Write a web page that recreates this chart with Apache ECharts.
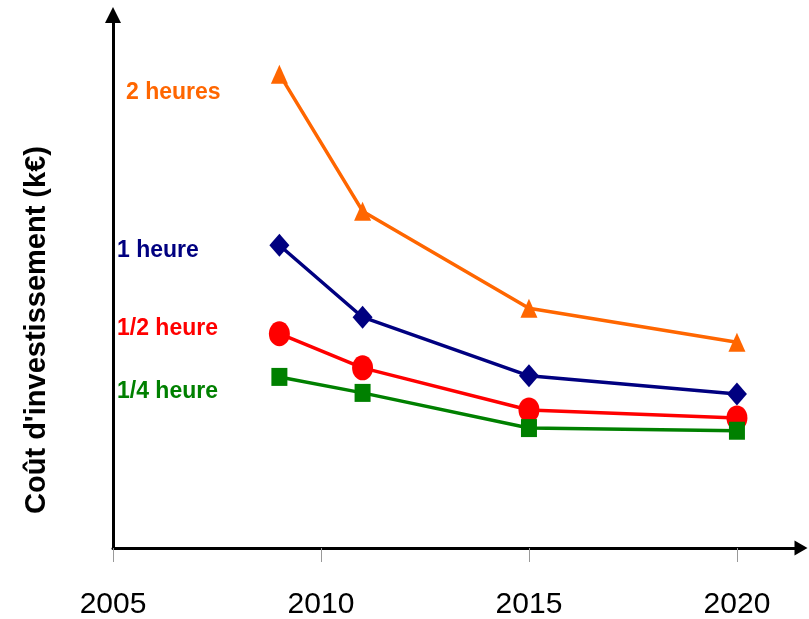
<!DOCTYPE html>
<html>
<head>
<meta charset="utf-8">
<script src="https://cdn.jsdelivr.net/npm/echarts@6/dist/echarts.min.js"></script>
<style>
  html, body { margin: 0; padding: 0; background: #fff; }
  #chart { width: 809px; height: 619px; }
</style>
</head>
<body>
<div id="chart"></div>
<script>
// Investment cost trend per storage duration
const years = [2009, 2011, 2015, 2020];
const deuxHeures = [88.9, 63.2, 45.0, 38.6];
const uneHeure = [56.8, 43.3, 32.3, 28.9];
const demiHeure = [40.2, 33.8, 25.9, 24.4];
const quartHeure = [32.1, 29.1, 22.5, 22.0];
const xTicks = [2005, 2010, 2015, 2020];
const seriesNames = ['2 heures', '1 heure', '1/2 heure', '1/4 heure'];

const colors = ['#FF6600', '#000080', '#FF0000', '#008000'];
const symbols = ['triangle', 'diamond', 'circle', 'rect'];
const sizes = [[17, 19], [20, 23], [21, 25], [16, 18]];
const values = [deuxHeures, uneHeure, demiHeure, quartHeure];

const chart = echarts.init(document.getElementById('chart'));

const series = values.map((vals, k) => ({
  name: seriesNames[k],
  type: 'line',
  data: years.map((y, i) => [y, vals[i]]),
  symbol: symbols[k],
  symbolSize: sizes[k],
  showAllSymbol: true,
  lineStyle: { color: colors[k], width: 3.5 },
  itemStyle: { color: colors[k] },
  z: 2 + k
}));

// Series names written beside the start of each curve
const labelPos = [[126, 93], [117, 251], [117, 329], [117, 392]];
const labelGraphics = seriesNames.map((name, k) => ({
  type: 'text',
  x: labelPos[k][0],
  y: labelPos[k][1],
  style: {
    text: name,
    fill: colors[k],
    font: 'bold 23px "Liberation Sans", Arial, sans-serif',
    textAlign: 'left',
    textVerticalAlign: 'middle'
  }
}));

chart.setOption({
  animation: false,
  backgroundColor: '#ffffff',
  grid: {
    left: 113, right: 8, top: 15, bottom: 71,
    containLabel: false,
    outerBoundsMode: 'none'
  },
  xAxis: {
    type: 'value',
    min: 2005,
    max: 2021.54,
    splitLine: { show: false },
    axisLine: {
      show: true,
      lineStyle: { color: '#000', width: 3 },
      symbol: ['none', 'triangle'],
      symbolSize: [15, 13]
    },
    axisTick: {
      show: true,
      customValues: xTicks,
      length: 14,
      lineStyle: { color: '#999', width: 1 }
    },
    axisLabel: {
      customValues: xTicks,
      formatter: (v) => String(v),
      margin: 42,
      color: '#000',
      fontSize: 30,
      fontFamily: '"Liberation Sans", Arial, sans-serif'
    }
  },
  yAxis: {
    type: 'value',
    min: 0,
    max: 100,
    splitLine: { show: false },
    axisLine: {
      show: true,
      lineStyle: { color: '#000', width: 3 },
      symbol: ['none', 'triangle'],
      symbolSize: [16, 16]
    },
    axisTick: { show: false },
    axisLabel: { show: false }
  },
  graphic: [
    {
      type: 'text',
      x: 37,
      y: 330,
      rotation: Math.PI / 2,
      style: {
        text: "Coût d'investissement (k€)",
        fill: '#000',
        font: 'bold 29px "Liberation Sans", Arial, sans-serif',
        textAlign: 'center',
        textVerticalAlign: 'middle'
      }
    }
  ].concat(labelGraphics),
  series: series
});
</script>
</body>
</html>
